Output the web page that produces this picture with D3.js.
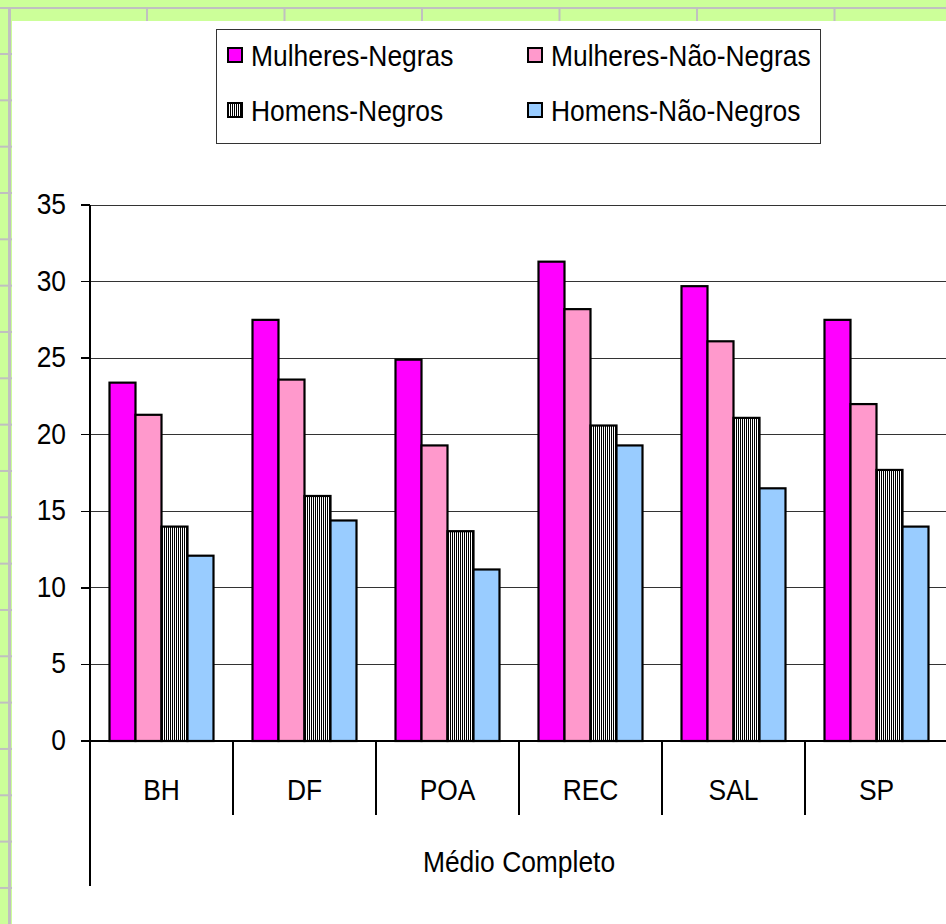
<!DOCTYPE html>
<html>
<head>
<meta charset="utf-8">
<script src="https://cdn.jsdelivr.net/npm/d3@7"></script>
<style>
  body { margin: 0; background: #fff; }
  svg { display: block; }
  text { font-family: "Liberation Sans", Arial, sans-serif; fill: #000; }
</style>
</head>
<body>
<div id="chart"></div>
<script>
// Chart data
const cities = ["BH", "DF", "POA", "REC", "SAL", "SP"];
const seriesNames = ["Mulheres-Negras", "Mulheres-Não-Negras", "Homens-Negros", "Homens-Não-Negros"];
const mulheresNegras = [23.4, 27.5, 24.9, 31.3, 29.7, 27.5];
const mulheresNaoNegras = [21.3, 23.6, 19.3, 28.2, 26.1, 22.0];
const homensNegros = [14.0, 16.0, 13.7, 20.6, 21.1, 17.7];
const homensNaoNegros = [12.1, 14.4, 11.2, 19.3, 16.5, 14.0];
const yTicks = [0, 5, 10, 15, 20, 25, 30, 35];
const groupLabel = "Médio Completo";

const seriesValues = [mulheresNegras, mulheresNaoNegras, homensNegros, homensNaoNegros];
const seriesFill = ["#ff00ff", "#ff99cc", "url(#vstripes)", "#99ccff"];

const width = 946, height = 924;
const textScale = 0.88;

const svg = d3.select("#chart").append("svg")
  .attr("width", width)
  .attr("height", height);

// Vertical stripe pattern for Homens-Negros
const defs = svg.append("defs");
const pat = defs.append("pattern")
  .attr("id", "vstripes")
  .attr("patternUnits", "userSpaceOnUse")
  .attr("width", 2)
  .attr("height", 4);
pat.append("rect").attr("width", 2).attr("height", 4).attr("fill", "#fff");
pat.append("rect").attr("width", 1).attr("height", 4).attr("fill", "#000");

// Spreadsheet background (green cells with gray grid)
svg.append("rect").attr("width", width).attr("height", height).attr("fill", "#ccff99");
svg.append("rect").attr("x", 0).attr("y", 7).attr("width", width).attr("height", 2).attr("fill", "#c0c0c0");
svg.append("rect").attr("x", 8).attr("y", 7).attr("width", 3).attr("height", height).attr("fill", "#c0c0c0");
svg.selectAll(".rowline")
  .data(d3.range(19))
  .enter()
  .append("rect")
  .attr("x", 0)
  .attr("y", i => 53 + i * 46.33)
  .attr("width", 12)
  .attr("height", 2)
  .attr("fill", "#c0c0c0");
svg.selectAll(".colline")
  .data(d3.range(6))
  .enter()
  .append("rect")
  .attr("x", i => 146 + i * 137.5)
  .attr("y", 9)
  .attr("width", 2)
  .attr("height", 12)
  .attr("fill", "#c0c0c0");

// White chart area
svg.append("rect")
  .attr("x", 12).attr("y", 21)
  .attr("width", width - 12).attr("height", height - 21)
  .attr("fill", "#fff");

// Scales
const x0 = d3.scaleBand().domain(cities).range([90, 948]).paddingInner(0).paddingOuter(0);
const bw = x0.bandwidth();
const x1 = d3.scaleBand().domain(seriesNames).range([bw * 0.75 / 5.5, bw - bw * 0.75 / 5.5]);
const y = d3.scaleLinear().domain([0, 35]).range([741, 205]);

// Helper for slightly condensed text
function label(g, txt, tx, ty, anchor) {
  return g.append("text")
    .attr("transform", `translate(${tx},${ty}) scale(${textScale},1)`)
    .attr("text-anchor", anchor)
    .style("font-size", "30px")
    .text(txt);
}

// Gridlines
const grid = svg.append("g").attr("shape-rendering", "crispEdges");
grid.selectAll("line")
  .data(yTicks.filter(d => d > 0))
  .enter()
  .append("line")
  .attr("x1", 90).attr("x2", 948)
  .attr("y1", d => y(d)).attr("y2", d => y(d))
  .attr("stroke", "#333")
  .attr("stroke-width", 1);

// Bars
const groups = svg.append("g")
  .selectAll("g")
  .data(cities)
  .enter()
  .append("g")
  .attr("transform", d => `translate(${x0(d)},0)`);

groups.selectAll("rect")
  .data((c, ci) => seriesNames.map((s, si) => ({ s, si, v: seriesValues[si][ci] })))
  .enter()
  .append("rect")
  .attr("x", d => x1(d.s))
  .attr("y", d => y(d.v))
  .attr("width", x1.bandwidth())
  .attr("height", d => y(0) - y(d.v))
  .attr("fill", d => seriesFill[d.si])
  .attr("stroke", "#000")
  .attr("stroke-width", 2.2);

// Axes
const axes = svg.append("g")
  .attr("stroke", "#000")
  .attr("stroke-width", 1.5)
  .attr("shape-rendering", "crispEdges");

axes.append("line").attr("x1", 90).attr("x2", 90).attr("y1", y(35)).attr("y2", 886);
axes.append("line").attr("x1", 81).attr("x2", 948).attr("y1", y(0)).attr("y2", y(0));

axes.selectAll(".ytick")
  .data(yTicks)
  .enter()
  .append("line")
  .attr("x1", 81).attr("x2", 90)
  .attr("y1", d => y(d)).attr("y2", d => y(d));

// Category separators
axes.selectAll(".xsep")
  .data(cities.slice(1))
  .enter()
  .append("line")
  .attr("x1", d => x0(d)).attr("x2", d => x0(d))
  .attr("y1", y(0)).attr("y2", 815);

// Y tick labels
const yLabels = svg.append("g");
yTicks.forEach(t => label(yLabels, t, 66, y(t) + 9, "end"));

// Category labels
const xLabels = svg.append("g");
cities.forEach(c => label(xLabels, c, x0(c) + bw / 2, 800, "middle"));

// Outer group label
label(svg, groupLabel, (90 + 948) / 2, 872, "middle");

// Legend
const legend = svg.append("g");
legend.append("rect")
  .attr("x", 216.5).attr("y", 29.5)
  .attr("width", 604).attr("height", 114)
  .attr("fill", "#fff")
  .attr("stroke", "#333")
  .attr("stroke-width", 1);

seriesNames.forEach((s, i) => {
  const col = i % 2, row = Math.floor(i / 2);
  const lx = 228 + col * 300;
  const ly = 48 + row * 55;
  legend.append("rect")
    .attr("x", lx).attr("y", ly)
    .attr("width", 14).attr("height", 14)
    .attr("fill", seriesFill[i])
    .attr("stroke", "#000")
    .attr("stroke-width", 2);
  label(legend, s, lx + 23, ly + 18, "start");
});
</script>
</body>
</html>
